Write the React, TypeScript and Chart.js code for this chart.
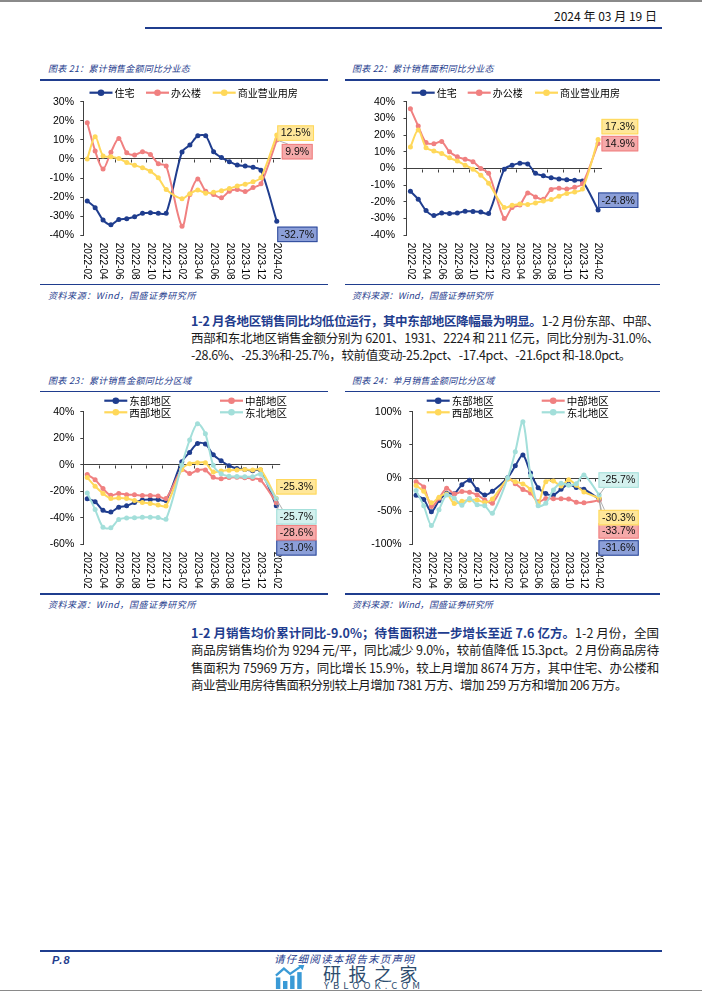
import React, { useEffect, useLayoutEffect, useRef } from "react";
import { Chart, registerables } from "chart.js";
Chart.register(...registerables);

// ---------------- DATA ----------------
const categories = [
  "2022-02", "2022-03", "2022-04", "2022-05", "2022-06", "2022-07", "2022-08", "2022-09", "2022-10", "2022-11", "2022-12",
  "2023-01", "2023-02", "2023-03", "2023-04", "2023-05", "2023-06", "2023-07", "2023-08", "2023-09", "2023-10", "2023-11", "2023-12",
  "2024-01", "2024-02",
];
// every second category carries a tick label
const xTickEvery = 2;

const typeNames = ["住宅", "办公楼", "商业营业用房"];
const regionNames = ["东部地区", "中部地区", "西部地区", "东北地区"];

// 图表21 累计销售金额同比分业态 (%)
const amtResidential = [-22, -25.5, -32, -34.5, -31.7, -31.3, -30.3, -28.5, -28.2, -28.5, -28.4, null, 3.7, 7.3, 12.1, 12.1, 3.8, 0.7, -1.4, -3.2, -3.7, -4.4, -5.9, null, -32.7];
const amtOffice = [19, 4.2, -5.3, 3.5, 10.7, 3.3, 2.1, 3.8, 2.3, -2.5, -3.7, null, -35.3, -18.6, -10.5, -16.9, -18.6, -20.3, -16.9, -16, -17.1, -15, -13, null, 9.9];
const amtCommercial = [0, 11.7, 1.6, 1.1, 0.2, -1.9, -3.3, -4.6, -6.5, -9.9, -16, null, -20.8, -18.2, -16.2, -18, -17.4, -16.6, -15.5, -14.2, -13.2, -12, -9.8, null, 12.5];

// 图表22 累计销售面积同比分业态 (%)
const areaResidential = [-13.6, -18.4, -25.2, -28.2, -26.6, -27, -26.7, -25.6, -25.7, -26, -27, null, -0.4, 1.9, 3.1, 2.7, -2.8, -4.4, -5.6, -6.3, -6.7, -7.1, -7.5, null, -24.8];
const areaOffice = [35.8, 25.4, 15.5, 14.8, 16.1, 10, 7, 5.6, 4.1, 0, -2.8, null, -30, -23.4, -21.8, -14.7, -17, -18.4, -12.5, -11.8, -12.3, -11.2, -9.2, null, 14.9];
const areaCommercial = [12.8, 23, 12.5, 10.5, 9, 6.4, 4.5, 2, -0.4, -4, -8.8, null, -23.4, -22, -21.2, -21.6, -20.6, -19.4, -18.6, -16.6, -15, -14, -12.3, null, 17.3];

// 图表23 累计销售金额同比分区域 (%)
const cumEast = [-25.6, -27.9, -34.4, -35.6, -32, -31, -28.5, -26.5, -26.2, -26.3, -27, null, 2.3, 9.3, 16.1, 15.6, 7.5, 3, -0.7, -2.8, -3.5, -4.5, -4, null, -31.0];
const cumCentral = [-7.4, -11.3, -18, -23.1, -21.6, -22.6, -22.7, -23.2, -23.2, -23.6, -25.4, null, -3.7, -6.7, -4.2, -4, -9.5, -10.5, -9.7, -9.5, -9.9, -10.3, -11.5, null, -28.6];
const cumWest = [-9.7, -16.2, -21.6, -25.5, -25, -25.4, -27, -28.5, -29.2, -30.4, -31.1, null, -3.6, 0.8, 1.5, 1.5, -5.5, -4.7, -4.2, -3.9, -3.6, -3.9, -3.6, null, -25.3];
const cumNortheast = [-21.3, -33.8, -47.1, -47.6, -41.3, -40.1, -40, -39.6, -39.6, -39.8, -41.1, null, -0.4, 18.6, 31, 23.3, -0.4, -6.8, -8.7, -8.8, -9, -9, -7.2, null, -25.7];

// 图表24 单月销售金额同比分区域 (%)
const monEast = [-26, -32.5, -50.8, -34, -23, -23.6, -10, -3.5, -17.5, -25.6, -20, null, 0.5, 18.4, 34.7, 7.5, -14.6, -23.5, -25.6, -17, -9.5, -14.5, -17, null, -31.6];
const monCentral = [-5.5, -13.5, -43, -30.6, -15.6, -24, -20.5, -21.5, -25.5, -33, -38, null, -0.8, -8.5, -17.5, -22.5, -36, -31, -31.2, -31.2, -31.8, -36.5, -37.5, null, -33.7];
const monWest = [-11.5, -20, -37.5, -29, -24, -38.5, -35, -33, -33, -37, -31.5, null, -2, -5.5, -9, -17.5, -38, -5.5, -4.5, -12, -2.5, -11, -21, null, -30.3];
const monNortheast = [-19, -42, -71.5, -48, -25.6, -30.6, -41, -31, -40.5, -42, -53.3, null, 0, 39.7, 85, 3.5, -42, -38, -18, -8, -11, -8.5, 4.5, null, -25.7];

// y-axis ranges (tick labels)
const yRange21 = { min: -40, max: 30, step: 10 };
const yRange22 = { min: -40, max: 40, step: 10 };
const yRange23 = { min: -60, max: 40, step: 20 };
const yRange24 = { min: -100, max: 100, step: 50 };

// ---------------- STYLE ----------------
const BLUE = "#1f3d8e";
const RED = "#f08080";
const YELLOW = "#ffd85a";
const TEAL = "#a3dfda";
const AXIS = "#404040";
const NAVY = "#1f3d8e";

const BOX = {
  blue: { fill: "#8c9fd8", border: "#2a4798" },
  red: { fill: "#f5a9a9", border: "#f08080" },
  yellow: { fill: "#ffe79a", border: "#ffd85a" },
  teal: { fill: "#d3f1ee", border: "#a3dfda" },
};

type SeriesSpec = {
  name: string;
  data: (number | null)[];
  color: string;
  box: { fill: string; border: string; dx: number; dy: number; leader?: boolean };
  legend: [number, number];
};
type ChartSpec = {
  left: number; top: number; width: number; height: number;
  area: { left: number; top: number; right: number; bottom: number };
  y: { min: number; max: number; step: number };
  labelPad: number;
  legendFont: number;
  series: SeriesSpec[];
};

const chart21: ChartSpec = {
  left: 40, top: 84, width: 300, height: 200,
  area: { left: 43.3, top: 17.7, right: 240.7, bottom: 151.3 },
  y: yRange21, labelPad: 6.3, legendFont: 10,
  series: [
    { name: typeNames[0], data: amtResidential, color: BLUE, box: { ...BOX.blue, dx: 0.5, dy: 13 }, legend: [49.5, 8.7] },
    { name: typeNames[1], data: amtOffice, color: RED, box: { ...BOX.red, dx: 5, dy: 11.6, leader: true }, legend: [106, 8.7] },
    { name: typeNames[2], data: amtCommercial, color: YELLOW, box: { ...BOX.yellow, dx: 0.5, dy: -2 }, legend: [172.7, 8.7] },
  ],
};
const chart22: ChartSpec = {
  left: 345, top: 84, width: 310, height: 200,
  area: { left: 61.5, top: 17.7, right: 257, bottom: 151.3 },
  y: yRange22, labelPad: 8.5, legendFont: 10,
  series: [
    { name: typeNames[0], data: areaResidential, color: BLUE, box: { ...BOX.blue, dx: 0, dy: -9.7 }, legend: [66.7, 8.7] },
    { name: typeNames[1], data: areaOffice, color: RED, box: { ...BOX.red, dx: 3.4, dy: 0 }, legend: [122.7, 8.7] },
    { name: typeNames[2], data: areaCommercial, color: YELLOW, box: { ...BOX.yellow, dx: 3.4, dy: -13 }, legend: [190, 8.7] },
  ],
};
const chart23: ChartSpec = {
  left: 40, top: 394, width: 300, height: 196,
  area: { left: 43.3, top: 17.7, right: 240.2, bottom: 150.3 },
  y: yRange23, labelPad: 6, legendFont: 10.5,
  series: [
    { name: regionNames[0], data: cumEast, color: BLUE, box: { ...BOX.blue, dx: 0, dy: 42 }, legend: [64.3, 6.7] },
    { name: regionNames[1], data: cumCentral, color: RED, box: { ...BOX.red, dx: 0, dy: 30, leader: true }, legend: [180, 6.7] },
    { name: regionNames[2], data: cumWest, color: YELLOW, box: { ...BOX.yellow, dx: 0, dy: -11.5 }, legend: [64.3, 18.3] },
    { name: regionNames[3], data: cumNortheast, color: TEAL, box: { ...BOX.teal, dx: 0, dy: 18, leader: true }, legend: [180, 18.3] },
  ],
};
const chart24: ChartSpec = {
  left: 345, top: 394, width: 310, height: 196,
  area: { left: 67.3, top: 17.7, right: 258, bottom: 150.3 },
  y: yRange24, labelPad: 7.6, legendFont: 10.5,
  series: [
    { name: regionNames[0], data: monEast, color: BLUE, box: { ...BOX.blue, dx: -0.7, dy: 49, leader: true }, legend: [81.7, 6.7] },
    { name: regionNames[1], data: monCentral, color: RED, box: { ...BOX.red, dx: -0.7, dy: 30.5, leader: true }, legend: [196.7, 6.7] },
    { name: regionNames[2], data: monWest, color: YELLOW, box: { ...BOX.yellow, dx: -0.7, dy: 19.5, leader: true }, legend: [81.7, 18.3] },
    { name: regionNames[3], data: monNortheast, color: TEAL, box: { ...BOX.teal, dx: -0.7, dy: -15, leader: true }, legend: [196.7, 18.3] },
  ],
};

const NUM_FONT = "'Liberation Sans', Arial, sans-serif";
const CJK_FONT = "'Noto Sans CJK SC', sans-serif";

function ChartCanvas({ spec }: { spec: ChartSpec }) {
  const ref = useRef<HTMLCanvasElement>(null);
  useEffect(() => {
    const canvas = ref.current!;
    const n = spec.series.length;
    const decor = {
      id: "decor",
      beforeDatasetsDraw(chart: any) {
        const { ctx } = chart;
        const xs = chart.scales.x;
        const ys = chart.scales.y;
        const y0 = Math.round(ys.getPixelForValue(0)) + 0.5;
        ctx.save();
        ctx.strokeStyle = AXIS;
        ctx.lineWidth = 1;
        ctx.beginPath();
        for (let i = 1; i < categories.length - 1; i += xTickEvery) {
          const x = Math.round((xs.getPixelForValue(i) + xs.getPixelForValue(i + 1)) / 2) + 0.5;
          ctx.moveTo(x, y0);
          ctx.lineTo(x, y0 + 3);
        }
        ctx.stroke();
        ctx.restore();
      },
      afterDraw(chart: any) {
        const { ctx, chartArea } = chart;
        const xs = chart.scales.x;
        ctx.save();
        // x labels, rotated clockwise
        ctx.fillStyle = "#000";
        ctx.font = `10px ${NUM_FONT}`;
        ctx.textAlign = "left";
        ctx.textBaseline = "middle";
        categories.forEach((c, i) => {
          if (i % xTickEvery !== 0) return;
          const x = xs.getPixelForValue(i);
          ctx.save();
          ctx.translate(x, chartArea.bottom + 7.5);
          ctx.rotate(Math.PI / 2);
          ctx.fillText(c, 0, 0);
          ctx.restore();
        });
        // legend
        ctx.font = `${spec.legendFont}px ${CJK_FONT}`;
        spec.series.forEach((s) => {
          const [lx, ly] = s.legend;
          ctx.strokeStyle = s.color;
          ctx.lineWidth = 2.2;
          ctx.beginPath();
          ctx.moveTo(lx, ly);
          ctx.lineTo(lx + 23, ly);
          ctx.stroke();
          ctx.fillStyle = s.color;
          ctx.beginPath();
          ctx.arc(lx + 11.5, ly, 3.3, 0, Math.PI * 2);
          ctx.fill();
          ctx.fillStyle = "#000";
          ctx.fillText(s.name, lx + 25, ly + 0.5);
        });
        // value callouts: leader lines first, then boxes
        ctx.font = `10.5px ${NUM_FONT}`;
        const boxes = spec.series.map((s, i) => {
          const meta = chart.getDatasetMeta(i);
          const pt = meta.data[meta.data.length - 1];
          const val = s.data[s.data.length - 1] as number;
          const text = val.toFixed(1) + "%";
          const tw = ctx.measureText(text).width;
          const bw = tw + 7;
          const bh = 15.5;
          const bx = pt.x + s.box.dx;
          const by = pt.y + s.box.dy - bh / 2;
          return { s, pt, text, bw, bh, bx, by };
        });
        boxes.forEach(({ s, pt, bh, bx, by }) => {
          if (!s.box.leader) return;
          ctx.strokeStyle = "#9a9a9a";
          ctx.lineWidth = 0.8;
          ctx.beginPath();
          ctx.moveTo(pt.x, pt.y);
          ctx.lineTo(bx + 6, s.box.dy > 0 ? by : by + bh);
          ctx.stroke();
        });
        boxes.forEach(({ s, text, bw, bh, bx, by }) => {
          ctx.fillStyle = s.box.fill;
          ctx.fillRect(bx, by, bw, bh);
          ctx.strokeStyle = s.box.border;
          ctx.lineWidth = 1;
          ctx.strokeRect(bx + 0.5, by + 0.5, bw - 1, bh - 1);
          ctx.fillStyle = "#111";
          ctx.textAlign = "center";
          ctx.fillText(text, bx + bw / 2, by + bh / 2 + 0.5);
          ctx.textAlign = "left";
        });
        ctx.restore();
      },
    };
    const chart = new Chart(canvas, {
      type: "line",
      data: {
        labels: categories,
        datasets: spec.series.map((s, i) => ({
          label: s.name,
          data: s.data,
          borderColor: s.color,
          backgroundColor: s.color,
          borderWidth: 2,
          pointRadius: 2.5,
          pointBackgroundColor: s.color,
          pointBorderColor: s.color,
          pointBorderWidth: 0,
          tension: 0.3,
          spanGaps: true,
          order: n - i,
        })),
      },
      options: {
        responsive: false,
        animation: false,
        devicePixelRatio: 1,
        events: [],
        layout: {
          padding: {
            left: 0,
            top: spec.area.top,
            right: spec.width - spec.area.right,
            bottom: spec.height - spec.area.bottom,
          },
        },
        plugins: { legend: { display: false }, tooltip: { enabled: false } },
        scales: {
          x: { type: "category", display: false, offset: true, grid: { offset: true } },
          y: {
            min: spec.y.min,
            max: spec.y.max,
            ticks: {
              stepSize: spec.y.step,
              callback: (v: any) => v + "%",
              color: "#000",
              font: { family: NUM_FONT, size: 10.5 },
              padding: spec.labelPad,
            },
            grid: {
              drawOnChartArea: true,
              color: (c: any) => (c.tick && c.tick.value === 0 ? AXIS : "rgba(0,0,0,0)"),
              tickColor: AXIS,
              tickLength: 3,
              lineWidth: 1,
            },
            border: { display: true, color: AXIS, width: 1 },
            afterFit: (s: any) => {
              s.width = spec.area.left;
            },
          },
        },
      },
      plugins: [decor],
    } as any);
    return () => chart.destroy();
  }, [spec]);
  return (
    <canvas
      ref={ref}
      width={spec.width}
      height={spec.height}
      style={{ position: "absolute", left: spec.left, top: spec.top, width: spec.width, height: spec.height }}
    />
  );
}

// text line, optionally fitted to a target width
function Line({ left, cy, width, size, children, style, right, lh = 17 }: any) {
  const ref = useRef<HTMLSpanElement>(null);
  useLayoutEffect(() => {
    const el = ref.current!;
    el.style.letterSpacing = "0px";
    const w = el.getBoundingClientRect().width;
    const nch = (el.textContent || "").length;
    if (width && nch > 0) el.style.letterSpacing = (width - w) / nch + "px";
  }, []);
  const pos: any = { position: "absolute", top: cy - lh / 2, lineHeight: lh + "px", whiteSpace: "nowrap", fontSize: size, fontFamily: CJK_FONT, color: "#1a1a1a" };
  if (right !== undefined) pos.right = right; else pos.left = left;
  return (
    <div style={{ ...pos, ...style }}>
      <span ref={ref}>{children}</span>
    </div>
  );
}

function HLine({ x1, x2, y, h = 2, color = NAVY }: any) {
  return <div style={{ position: "absolute", left: x1, top: y - h / 2, width: x2 - x1, height: h, background: color }} />;
}

const capStyle = { fontStyle: "italic", color: NAVY };

export default function App() {
  return (
    <div style={{ position: "absolute", left: 0, top: 0, width: 702, height: 991, background: "#fff", overflow: "hidden" }}>
      <HLine x1={0} x2={702} y={1} h={2} color="#8a8a8a" />
      <Line right={45} cy={15} width={103} size={12} style={{ color: "#111" }}>2024 年 03 月 19 日</Line>
      <HLine x1={145} x2={662} y={27.5} h={2} />

      {/* chart 21 / 22 frames */}
      <Line left={48} cy={68} width={142} size={9} style={capStyle}>图表 21：累计销售金额同比分业态</Line>
      <Line left={352} cy={68} width={141.6} size={9} style={capStyle}>图表 22：累计销售面积同比分业态</Line>
      <HLine x1={40} x2={328} y={80} h={1.6} />
      <HLine x1={345} x2={660} y={80} h={1.6} />
      <ChartCanvas spec={chart21} />
      <ChartCanvas spec={chart22} />
      <HLine x1={40} x2={328} y={284.5} h={1.6} />
      <HLine x1={345} x2={660} y={284.5} h={1.6} />
      <Line left={48} cy={295} width={148} size={9} style={capStyle}>资料来源：Wind，国盛证券研究所</Line>
      <Line left={352} cy={295} width={141} size={9} style={capStyle}>资料来源：Wind，国盛证券研究所</Line>

      {/* paragraph 1 */}
      <Line left={191} cy={320} width={468} size={12.5}>
        <b style={{ color: NAVY }}>1-2 月各地区销售同比均低位运行，其中东部地区降幅最为明显。</b>1-2 月份东部、中部、
      </Line>
      <Line left={191} cy={337} width={468} size={12.5}>西部和东北地区销售金额分别为 6201、1931、2224 和 211 亿元，同比分别为-31.0%、</Line>
      <Line left={191} cy={354} width={440} size={12.5}>-28.6%、-25.3%和-25.7%，较前值变动-25.2pct、-17.4pct、-21.6pct 和-18.0pct。</Line>

      {/* chart 23 / 24 frames */}
      <Line left={48} cy={380.5} width={143.4} size={9} style={capStyle}>图表 23：累计销售金额同比分区域</Line>
      <Line left={352} cy={380.5} width={142.6} size={9} style={capStyle}>图表 24：单月销售金额同比分区域</Line>
      <HLine x1={40} x2={328} y={391.5} h={1.6} />
      <HLine x1={345} x2={660} y={391.5} h={1.6} />
      <ChartCanvas spec={chart23} />
      <ChartCanvas spec={chart24} />
      <HLine x1={40} x2={328} y={594} h={1.6} />
      <HLine x1={345} x2={660} y={594} h={1.6} />
      <Line left={48} cy={604} width={148} size={9} style={capStyle}>资料来源：Wind，国盛证券研究所</Line>
      <Line left={352} cy={604} width={141} size={9} style={capStyle}>资料来源：Wind，国盛证券研究所</Line>

      {/* paragraph 2 */}
      <Line left={191} cy={632} width={468} size={12.5}>
        <b style={{ color: NAVY }}>1-2 月销售均价累计同比-9.0%；待售面积进一步增长至近 7.6 亿方。</b>1-2 月份，全国
      </Line>
      <Line left={191} cy={649.5} width={468} size={12.5}>商品房销售均价为 9294 元/平，同比减少 9.0%，较前值降低 15.3pct。2 月份商品房待</Line>
      <Line left={191} cy={667} width={468} size={12.5}>售面积为 75969 万方，同比增长 15.9%，较上月增加 8674 万方，其中住宅、办公楼和</Line>
      <Line left={191} cy={684.5} width={436} size={12.5}>商业营业用房待售面积分别较上月增加 7381 万方、增加 259 万方和增加 206 万方。</Line>

      {/* footer */}
      <HLine x1={40} x2={662} y={950.5} h={2} />
      <Line left={52} cy={960} width={19} size={11} style={{ fontStyle: "italic", fontWeight: 700, color: NAVY, fontFamily: NUM_FONT }}>P.8</Line>
      <Line left={274} cy={959} width={141} size={10.5} lh={12} style={capStyle}>请仔细阅读本报告末页声明</Line>
      <svg style={{ position: "absolute", left: 275, top: 965 }} width={32} height={24} viewBox="0 0 36 27">
        <rect x="1" y="14" width="5" height="13" fill="#3a9ad6" />
        <rect x="9" y="18" width="5" height="9" fill="#3a9ad6" />
        <rect x="17" y="12" width="5" height="15" fill="#3a9ad6" />
        <rect x="25" y="8" width="5" height="19" fill="#3a9ad6" />
        <polyline points="1,12 10,4 17,10 30,1" fill="none" stroke="#3a9ad6" strokeWidth="2.5" />
        <polygon points="26,0 33,0 31,6" fill="#3a9ad6" />
      </svg>
      <Line left={323} cy={973} width={102} size={18} lh={19} style={{ color: "#2d4c6e" }}>研报之家</Line>
      <Line left={324} cy={984.5} width={100} size={9.5} lh={10} style={{ color: "#2d4c6e" }}>YBLOOK.COM</Line>
      <HLine x1={0} x2={702} y={990.5} h={1.5} color="#8a8a8a" />
    </div>
  );
}
